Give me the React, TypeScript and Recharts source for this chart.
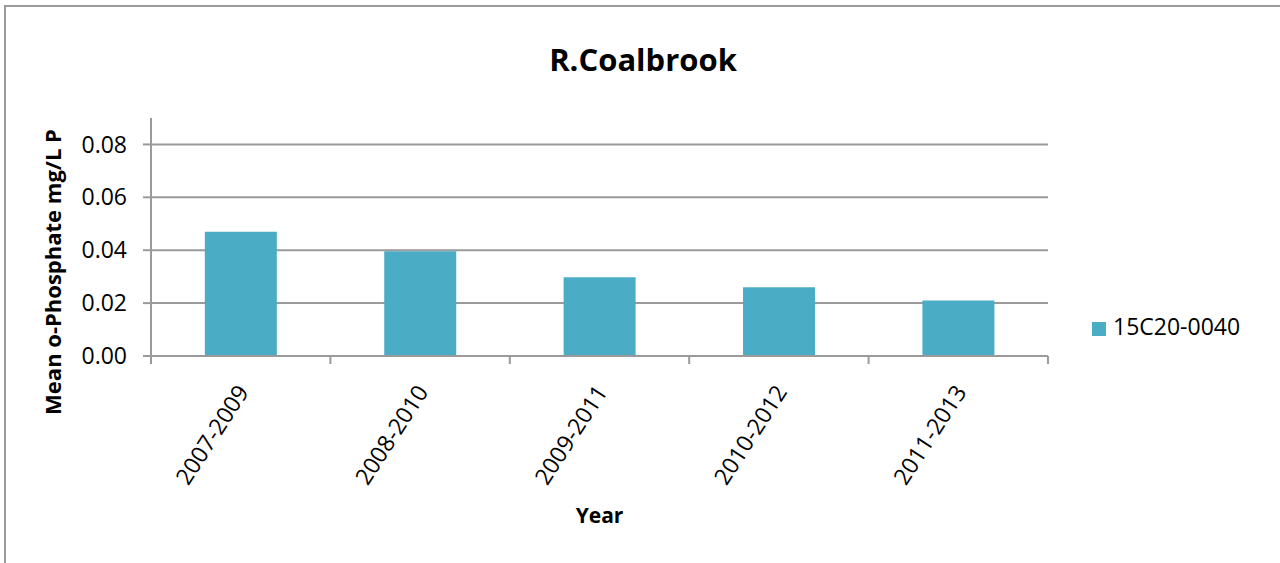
import React from 'react';
import { BarChart, Bar, XAxis, YAxis, CartesianGrid, Legend } from 'recharts';

const periods = ['2007-2009', '2008-2010', '2009-2011', '2010-2012', '2011-2013'];
const phosphate = [0.047, 0.0396, 0.0298, 0.026, 0.021];
const yTicks = [0, 0.02, 0.04, 0.06, 0.08];
const seriesName = '15C20-0040';

const data = periods.map((p, i) => ({ period: p, value: phosphate[i] }));

const FONT = '"Open Sans", sans-serif';
const AXIS = '#9a9a9a';
const BAR = '#4BACC6';

// category label plus the small tick marks at the category boundaries
const PeriodTick = (props: any) => {
    const { x, payload, index, visibleTicksCount } = props;
    const half = payload.offset || 0;
    const ay = 356;
    const tx = x + 9;
    const ty = ay + 36;
    return (
        <g>
            <line x1={x - half} x2={x - half} y1={ay} y2={ay + 8} stroke={AXIS} strokeWidth={2} />
            {index === visibleTicksCount - 1 && (
                <line x1={x + half} x2={x + half} y1={ay} y2={ay + 8} stroke={AXIS} strokeWidth={2} />
            )}
            <text x={tx} y={ty} transform={`rotate(-57, ${tx}, ${ty})`} textAnchor="end"
                fontFamily={FONT} fontSize={23} fill="#000">
                {payload.value}
            </text>
        </g>
    );
};

const YTitle = () => {
    const x = 61;
    const y = 272;
    return (
        <text x={x} y={y} transform={`rotate(-90, ${x}, ${y})`} textAnchor="middle"
            fontFamily={FONT} fontSize={22} fontWeight="bold" fill="#000">
            Mean o-Phosphate mg/L P
        </text>
    );
};

const XTitle = (props: any) => {
    const { viewBox } = props;
    return (
        <text x={viewBox.x + viewBox.width / 2} y={523} textAnchor="middle"
            fontFamily={FONT} fontSize={21} fontWeight="bold" fill="#000">
            Year
        </text>
    );
};

const App = () => {
    return (
        <div style={{ position: 'absolute', left: 0, top: 0, width: 1280, height: 563, overflow: 'hidden', background: '#fff' }}>
            <div style={{ position: 'absolute', left: 4, top: 5, width: 1400, height: 700, borderTop: `2px solid ${AXIS}`, borderLeft: `2px solid ${AXIS}` }} />
            <div style={{ position: 'absolute', left: 0, top: 44, width: 1286, textAlign: 'center', fontFamily: FONT, fontSize: 31, fontWeight: 'bold', lineHeight: '31px' }}>
                R.Coalbrook
            </div>
            <div style={{ position: 'absolute', left: 0, top: 0 }}>
                <BarChart width={1280} height={563} data={data} margin={{ top: 118, right: 232, bottom: 0, left: 0 }} barCategoryGap="30%">
                    <CartesianGrid vertical={false} stroke={AXIS} strokeWidth={2} horizontalValues={yTicks} />
                    <XAxis dataKey="period" height={207} tickLine={false}
                        axisLine={{ stroke: AXIS, strokeWidth: 2 }} tick={<PeriodTick />} interval={0}
                        label={<XTitle />} />
                    <YAxis width={151} domain={[0, 0.09]} ticks={yTicks} tickSize={8} tickMargin={16}
                        axisLine={{ stroke: AXIS, strokeWidth: 2 }} tickLine={{ stroke: AXIS, strokeWidth: 2 }}
                        tickFormatter={(v: number) => v.toFixed(2)}
                        tick={{ fontFamily: FONT, fontSize: 23, fill: '#000' }}
                        allowDataOverflow label={<YTitle />} />
                    <Legend layout="vertical" align="center" verticalAlign="middle" iconType="square" iconSize={14}
                        wrapperStyle={{ left: 1092, top: 310, width: 'auto', fontFamily: FONT, fontSize: 23 }}
                        formatter={(v: string) => <span style={{ color: '#000', marginLeft: 3 }}>{v}</span>} />
                    <Bar dataKey="value" name={seriesName} fill={BAR} isAnimationActive={false} />
                </BarChart>
            </div>
        </div>
    );
};

export default App;
